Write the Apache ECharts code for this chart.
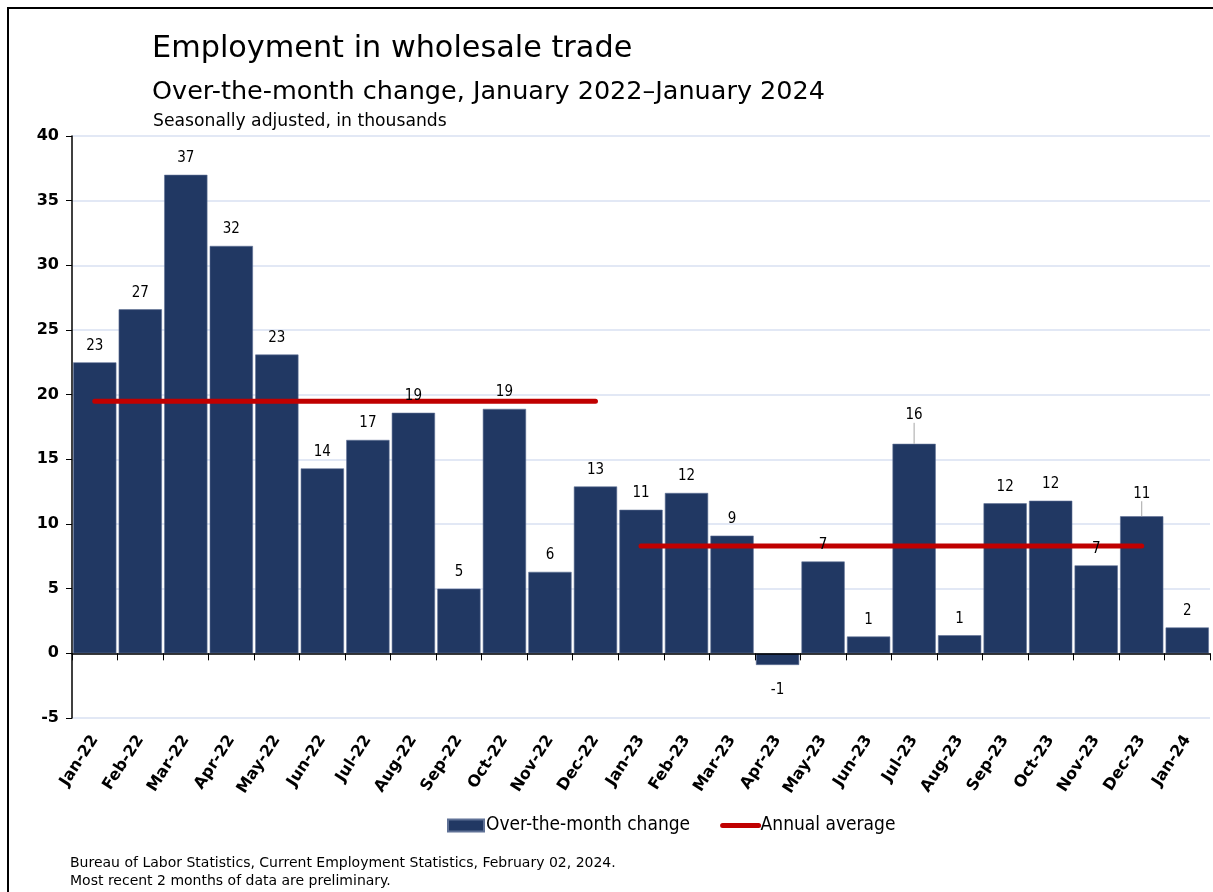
<!DOCTYPE html>
<html>
<head>
<meta charset="utf-8">
<script src="https://cdn.jsdelivr.net/npm/echarts@6/dist/echarts.min.js"></script>
<style>
  html, body { margin: 0; padding: 0; background: #fff; }
  #chart { width: 1213px; height: 892px; }
</style>
</head>
<body>
<div id="chart"></div>
<script>
  // monthly categories
  const months = ['Jan-22', 'Feb-22', 'Mar-22', 'Apr-22', 'May-22', 'Jun-22', 'Jul-22', 'Aug-22',
    'Sep-22', 'Oct-22', 'Nov-22', 'Dec-22', 'Jan-23', 'Feb-23', 'Mar-23', 'Apr-23', 'May-23',
    'Jun-23', 'Jul-23', 'Aug-23', 'Sep-23', 'Oct-23', 'Nov-23', 'Dec-23', 'Jan-24'];

  // over-the-month change, thousands
  const monthChange = [22.5, 26.6, 37.0, 31.5, 23.1, 14.3, 16.5, 18.6, 5.0, 18.9, 6.3, 12.9,
    11.1, 12.4, 9.1, -0.9, 7.1, 1.3, 16.2, 1.4, 11.6, 11.8, 6.8, 10.6, 2.0];

  // annual averages
  const avgYears = ['22', '23'];
  const annualAvg = [19.5, 8.3];

  const yTicks = [-5, 0, 5, 10, 15, 20, 25, 30, 35, 40];

  const FONT = "'DejaVu Sans', Tahoma, sans-serif";
  const FONT_NARROW = "'DejaVu Sans Condensed', 'DejaVu Sans', sans-serif";
  const NAVY = '#213863';
  const RED = '#c00000';

  // labels that are pushed up with a leader line
  const labelShift = { 18: -12, 23: -6 };

  const myChart = echarts.init(document.getElementById('chart'));

  const avgSeries = avgYears.map((yr, i) => ({
    name: 'Annual average',
    type: 'line',
    xAxisIndex: 1,
    z: 3,
    symbol: 'none',
    silent: true,
    lineStyle: { color: RED, width: 5, cap: 'round' },
    itemStyle: { color: RED },
    data: months.map(m => m.endsWith('-' + yr) ? annualAvg[i] : '-')
  }));

  const option = {
    animation: false,
    textStyle: { fontFamily: FONT },
    title: [
      { text: 'Employment in wholesale trade', left: 147, top: 29,
        textStyle: { fontFamily: FONT, fontSize: 30.3, fontWeight: 'normal', color: '#000' } },
      { text: 'Over-the-month change, January 2022\u2013January 2024', left: 147, top: 74,
        textStyle: { fontFamily: FONT, fontSize: 25.5, fontWeight: 'normal', color: '#000' } },
      { text: 'Seasonally adjusted, in thousands', left: 148, top: 108,
        textStyle: { fontFamily: FONT, fontSize: 17.2, fontWeight: 'normal', color: '#000' } },
      { text: 'Bureau of Labor Statistics, Current Employment Statistics, February 02, 2024.\nMost recent 2 months of data are preliminary.',
        left: 65, top: 849,
        textStyle: { fontFamily: FONT, fontSize: 14, fontWeight: 'normal', color: '#000', lineHeight: 18 } }
    ],
    graphic: [
      { type: 'rect', shape: { x: 8, y: 8, width: 1230, height: 920 },
        style: { fill: 'none', stroke: '#000', lineWidth: 2 }, silent: true }
    ],
    legend: {
      top: 811,
      left: 442,
      itemGap: 30,
      itemWidth: 36,
      itemHeight: 12,
      textStyle: { fontFamily: FONT_NARROW, fontSize: 19, color: '#000', padding: [0, 0, 0, -3] },
      data: [
        { name: 'Over-the-month change', icon: 'rect' },
        { name: 'Annual average', itemStyle: { opacity: 0 }, lineStyle: { width: 5, cap: 'round', color: RED } }
      ]
    },
    grid: { left: 72, right: 3, top: 136, bottom: 174 },
    xAxis: [
      {
        // month labels along the bottom of the plot
        type: 'category',
        data: months,
        position: 'bottom',
        axisLine: { show: false, onZero: false },
        axisTick: { show: false },
        axisLabel: {
          interval: 0, rotate: 57, margin: 19,
          fontFamily: FONT, fontSize: 16, fontWeight: 'bold', color: '#000'
        }
      },
      {
        // axis line and ticks sitting on zero, drawn over the bars
        type: 'category',
        data: months,
        position: 'bottom',
        z: 4,
        axisLine: { show: true, onZero: true, onZeroAxisIndex: 0, lineStyle: { color: '#000', width: 1.5 } },
        axisTick: { show: true, interval: 0, length: 7, lineStyle: { color: '#000', width: 1 } },
        axisLabel: { show: false, interval: 0 }
      }
    ],
    yAxis: {
      type: 'value',
      min: yTicks[0],
      max: yTicks[yTicks.length - 1],
      interval: 5,
      axisLine: { show: true, onZero: false, lineStyle: { color: '#000', width: 1.5 } },
      axisTick: { show: true, length: 6, lineStyle: { color: '#000' } },
      axisLabel: { fontFamily: FONT, fontSize: 16, fontWeight: 'bold', color: '#000', margin: 13 },
      splitLine: { lineStyle: { color: '#d9e1f2', width: 1.5 } }
    },
    series: [
      {
        name: 'Over-the-month change',
        type: 'bar',
        xAxisIndex: 1,
        z: 2,
        barCategoryGap: '5%',
        itemStyle: { color: NAVY, borderColor: '#5f7196', borderWidth: 0.6 },
        data: monthChange
      },
      ...avgSeries,
      {
        // value labels drawn above the average lines
        name: 'labels',
        type: 'bar',
        xAxisIndex: 1,
        z: 5,
        barGap: '-100%',
        barCategoryGap: '5%',
        silent: true,
        itemStyle: { color: 'rgba(0,0,0,0)' },
        label: {
          show: true,
          position: 'outside',
          distance: 9,
          fontFamily: FONT_NARROW,
          fontSize: 15,
          color: '#000',
          formatter: p => Math.round(p.value)
        },
        labelLine: { show: false, lineStyle: { color: '#a6a6a6', width: 1 } },
        labelLayout: p => labelShift[p.dataIndex] ? { dy: labelShift[p.dataIndex] } : {},
        data: monthChange.map((v, i) => ({
          value: v,
          label: v < 0 ? { position: 'bottom', distance: 18 } : {},
          labelLine: { show: !!labelShift[i] }
        }))
      }
    ]
  };

  myChart.setOption(option);
</script>
</body>
</html>
